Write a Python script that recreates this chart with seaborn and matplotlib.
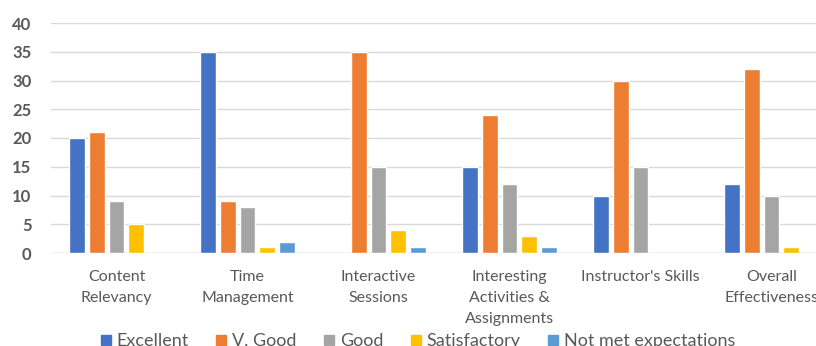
import matplotlib
matplotlib.use("Agg")
import matplotlib.pyplot as plt
import pandas as pd
import seaborn as sns
from matplotlib.lines import Line2D

categories = ["Content\nRelevancy", "Time\nManagement", "Interactive\nSessions",
              "Interesting\nActivities &\nAssignments", "Instructor's Skills",
              "Overall\nEffectiveness"]
ratings = ["Excellent", "V. Good", "Good", "Satisfactory", "Not met expectations"]

excellent = [20, 35, 0, 15, 10, 12]
v_good = [21, 9, 35, 24, 30, 32]
good = [9, 8, 15, 12, 15, 10]
satisfactory = [5, 1, 4, 3, 0, 1]
not_met = [0, 2, 1, 1, 0, 0]

colors = ["#4472C4", "#ED7D31", "#A5A5A5", "#FFC000", "#5B9BD5"]
TEXT = "#595959"

rows = []
for rating, values in zip(ratings, [excellent, v_good, good, satisfactory, not_met]):
    for cat, v in zip(categories, values):
        rows.append({"Category": cat, "Rating": rating, "Count": v})
df = pd.DataFrame(rows)

sns.set_style("white")
plt.rcParams["font.family"] = ["Lato", "DejaVu Sans"]

fig = plt.figure(figsize=(8.16, 3.46), dpi=100)
ax = fig.add_axes([51 / 816, 93 / 346, 786 / 816, 230 / 346])

sns.barplot(data=df, x="Category", y="Count", hue="Rating", order=categories,
            hue_order=ratings, palette=colors, width=0.76, gap=0.2,
            saturation=1, legend=False, ax=ax)

ax.set_ylim(0, 40)
ax.set_xlim(-0.5, 5.5)
ax.set_yticks(range(0, 41, 5))
ax.yaxis.grid(True, color="#D9D9D9", linewidth=1)
ax.set_axisbelow(True)
sns.despine(ax=ax, left=True, bottom=True, right=True, top=True)
ax.axhline(0, color="#D9D9D9", linewidth=1, zorder=0)
ax.set_xlabel("")
ax.set_ylabel("")
ax.tick_params(axis="both", length=0, colors=TEXT)
ax.tick_params(axis="y", labelsize=12, pad=14)
ax.tick_params(axis="x", labelsize=11.5, pad=12)
for lbl in ax.get_yticklabels():
    lbl.set_fontweight("bold")
for lbl in ax.get_xticklabels():
    lbl.set_linespacing(1.65)

handles = [Line2D([0], [0], marker="s", linestyle="", markersize=7,
                  markerfacecolor=c, markeredgecolor=c) for c in colors]
fig.legend(handles, ratings, loc="upper center", bbox_to_anchor=(0.511, 0.085),
           ncol=5, frameon=False, fontsize=13, labelcolor=TEXT,
           handletextpad=0.2, columnspacing=1.4, handlelength=0.8)

fig.savefig("out.png", dpi=100)
